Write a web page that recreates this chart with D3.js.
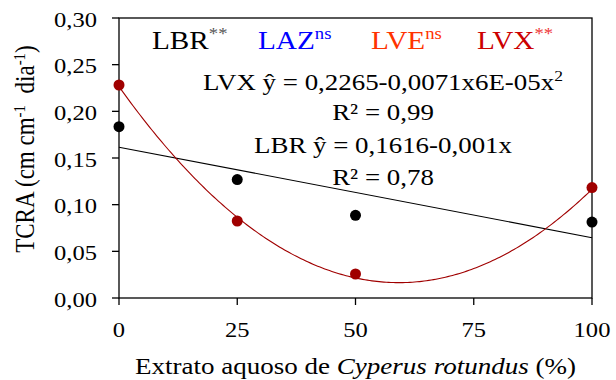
<!DOCTYPE html>
<html>
<head>
<meta charset="utf-8">
<script src="https://cdn.jsdelivr.net/npm/d3@7"></script>
<style>
    body { margin: 0; background: #fff; }
    text { font-family: "Liberation Serif", "Times New Roman", serif; }
</style>
</head>
<body>
<div id="viz"></div>
<script>
    // doses of the extract (%)
    var doses = [0, 25, 50, 100];
    var lbrValues = [0.1836, 0.1269, 0.0886, 0.0814];
    var lvxValues = [0.2282, 0.0825, 0.0257, 0.1183];

    // regression coefficients (intercept, x, x^2)
    var lbrFit = [0.1616, -0.00097];
    var lvxFit = [0.2265, -0.0071, 0.00006];

    var xTicks = [0, 25, 50, 75, 100];
    var yTicks = [0, 0.05, 0.10, 0.15, 0.20, 0.25, 0.30];

    var legendItems = [
        { name: "LBR", sig: "**", color: "#000000", sigColor: "#555555", x: 152 },
        { name: "LAZ", sig: "ns", color: "#0000ff", sigColor: "#0000ff", x: 258 },
        { name: "LVE", sig: "ns", color: "#ff3300", sigColor: "#ff3300", x: 371 },
        { name: "LVX", sig: "**", color: "#cc0000", sigColor: "#ee3333", x: 477 }
    ];

    var Settings = {
        width: 616,
        height: 380,
        left: 119,
        right: 592,
        top: 18,
        bottom: 298,
        stretch: 1.17,
        lbrColor: "#000000",
        lvxColor: "#a00000",
        pointRadius: 5.5
    };

    var svg = d3.select("#viz").append("svg")
        .attr("width", Settings.width)
        .attr("height", Settings.height);

    var x = d3.scaleLinear().domain([0, 100]).range([Settings.left, Settings.right]);
    var y = d3.scaleLinear().domain([0, 0.30]).range([Settings.bottom, Settings.top]);

    var comma = function (v) { return d3.format(".2f")(v).replace(".", ","); };

    // text is slightly wider than tall in the original picture
    var place = function (px, py, extra) {
        return "translate(" + px + "," + py + ") scale(" + Settings.stretch + ",1)" + (extra || "");
    };

    // frame
    svg.append("rect")
        .attr("x", Settings.left).attr("y", Settings.top)
        .attr("width", Settings.right - Settings.left)
        .attr("height", Settings.bottom - Settings.top)
        .attr("fill", "none").attr("stroke", "#000").attr("stroke-width", 1.3);

    // y axis ticks + labels
    var yAxis = svg.append("g");
    yAxis.selectAll("line").data(yTicks).enter().append("line")
        .attr("x1", Settings.left - 7).attr("x2", Settings.left)
        .attr("y1", function (d) { return y(d); })
        .attr("y2", function (d) { return y(d); })
        .attr("stroke", "#000").attr("stroke-width", 1.3);
    yAxis.selectAll("text").data(yTicks).enter().append("text")
        .attr("transform", function (d) { return place(97, y(d) + 8.5); })
        .attr("text-anchor", "end")
        .attr("font-size", 21)
        .text(comma);

    // x axis ticks + labels
    var xAxis = svg.append("g");
    xAxis.selectAll("line").data(xTicks).enter().append("line")
        .attr("x1", function (d) { return x(d); })
        .attr("x2", function (d) { return x(d); })
        .attr("y1", Settings.bottom).attr("y2", Settings.bottom + 7)
        .attr("stroke", "#000").attr("stroke-width", 1.3);
    xAxis.selectAll("text").data(xTicks).enter().append("text")
        .attr("transform", function (d) { return place(x(d), 337); })
        .attr("text-anchor", "middle")
        .attr("font-size", 21)
        .text(function (d) { return d; });

    // axis titles
    var xTitle = svg.append("text")
        .attr("transform", place((Settings.left + Settings.right) / 2, 374))
        .attr("text-anchor", "middle")
        .attr("font-size", 23.1);
    xTitle.append("tspan").text("Extrato aquoso de ");
    xTitle.append("tspan").attr("font-style", "italic").text("Cyperus rotundus");
    xTitle.append("tspan").text(" (%)");

    var yTitle = svg.append("text")
        .attr("transform", place(34, 149, " rotate(-90)"))
        .attr("text-anchor", "middle")
        .attr("font-size", 23);
    yTitle.append("tspan").text("TCRA (cm cm");
    yTitle.append("tspan").attr("font-size", 15).attr("dy", -8).text("-1");
    yTitle.append("tspan").attr("dy", 8).text("\u00a0 dia");
    yTitle.append("tspan").attr("font-size", 15).attr("dy", -8).text("-1");
    yTitle.append("tspan").attr("dy", 8).text(")");

    // fitted curves
    var samples = d3.range(0, 100.5, 0.5);
    var line = d3.line()
        .x(function (d) { return x(d[0]); })
        .y(function (d) { return y(d[1]); });

    svg.append("path")
        .datum(doses.filter(function (d, i) { return i === 0 || i === doses.length - 1; })
            .map(function (d) { return [d, lbrFit[0] + lbrFit[1] * d]; }))
        .attr("d", line)
        .attr("fill", "none").attr("stroke", Settings.lbrColor).attr("stroke-width", 1.1);

    svg.append("path")
        .datum(samples.map(function (d) { return [d, lvxFit[0] + lvxFit[1] * d + lvxFit[2] * d * d]; }))
        .attr("d", line)
        .attr("fill", "none").attr("stroke", Settings.lvxColor).attr("stroke-width", 1.1);

    // points
    var drawPoints = function (values, color) {
        svg.append("g").selectAll("circle").data(values).enter().append("circle")
            .attr("cx", function (d, i) { return x(doses[i]); })
            .attr("cy", function (d) { return y(d); })
            .attr("r", Settings.pointRadius)
            .attr("fill", color);
    };
    drawPoints(lbrValues, Settings.lbrColor);
    drawPoints(lvxValues, Settings.lvxColor);

    // legend row
    var legend = svg.append("g");
    legendItems.forEach(function (item) {
        var t = legend.append("text")
            .attr("transform", place(item.x, 49))
            .attr("font-size", 25)
            .attr("fill", item.color);
        t.append("tspan").text(item.name);
        t.append("tspan").attr("font-size", 16).attr("dy", -10)
            .attr("fill", item.sigColor).text(item.sig);
    });

    // equations
    var eqX = 383;
    var eq1 = svg.append("text").attr("transform", place(eqX, 90)).attr("text-anchor", "middle").attr("font-size", 23);
    eq1.append("tspan").text("LVX \u0177 = 0,2265-0,0071x6E-05x");
    eq1.append("tspan").attr("font-size", 15).attr("dy", -9).text("2");

    svg.append("text").attr("transform", place(eqX, 120)).attr("text-anchor", "middle").attr("font-size", 23)
        .text("R\u00b2 = 0,99");
    svg.append("text").attr("transform", place(eqX, 153)).attr("text-anchor", "middle").attr("font-size", 23)
        .text("LBR \u0177 = 0,1616-0,001x");
    svg.append("text").attr("transform", place(eqX, 185)).attr("text-anchor", "middle").attr("font-size", 23)
        .text("R\u00b2 = 0,78");
</script>
</body>
</html>
